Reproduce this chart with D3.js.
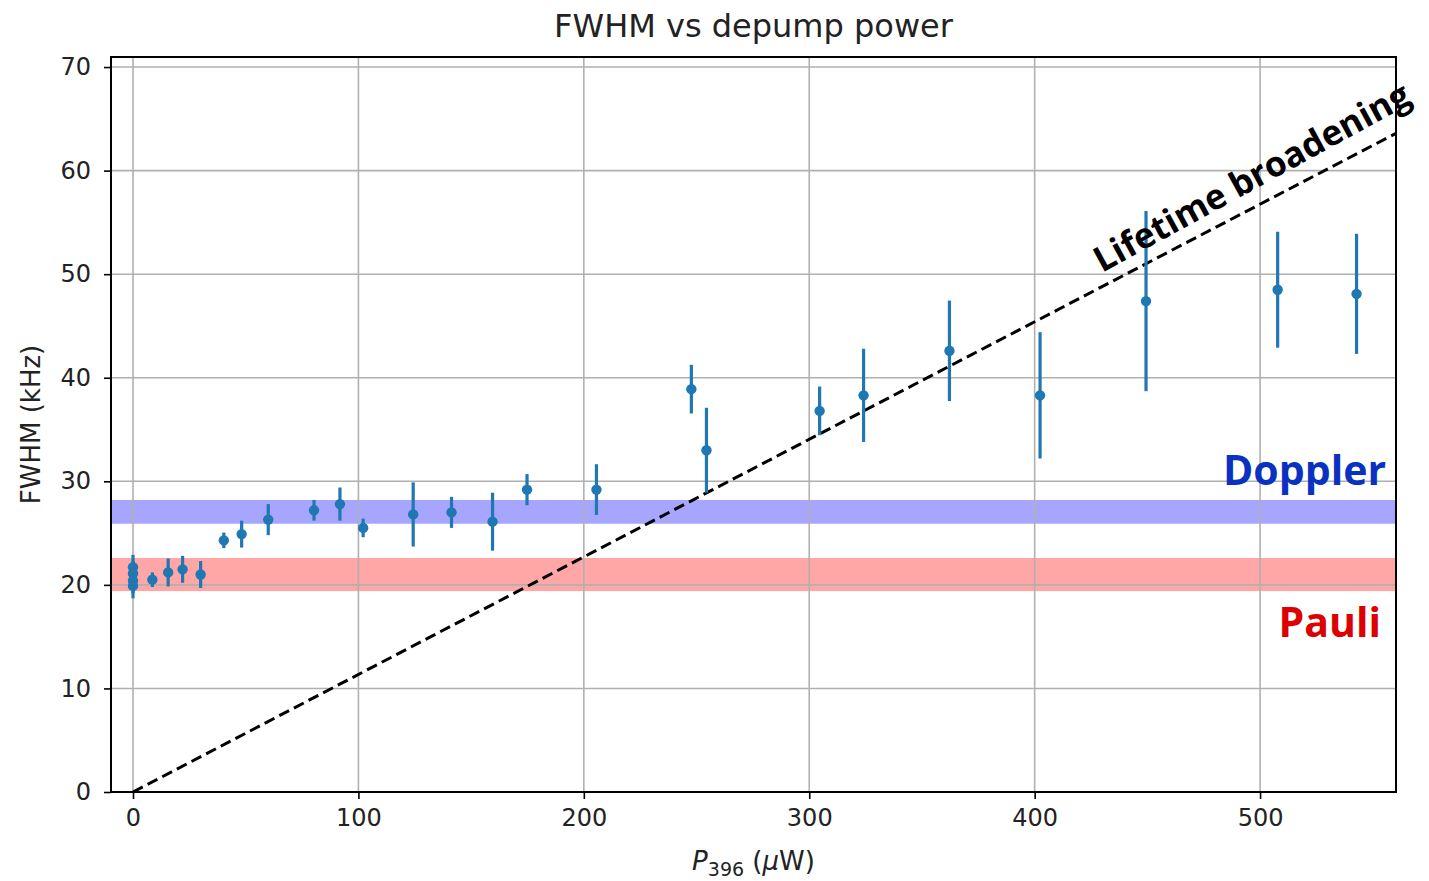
<!DOCTYPE html>
<html>
<head>
<meta charset="utf-8">
<script src="https://cdn.jsdelivr.net/npm/d3@7"></script>
<style>
  body { margin: 0; background: #fff; }
  text { font-family: "DejaVu Sans", sans-serif; }
</style>
</head>
<body>
<div id="chart"></div>
<script>
// data
var power = [0, 0, 0, 0, 8.6, 15.6, 22, 30, 40.3, 48.2, 60, 80.3, 91.8, 102.1, 124.3, 141.3,
             159.5, 174.8, 205.6, 247.7, 254.4, 304.6, 324.1, 362.2, 402.4, 449.4, 507.8, 542.8];
var fwhm = [21.7, 21.1, 20.4, 19.9, 20.5, 21.2, 21.5, 21.0, 24.3, 24.9, 26.3, 27.2, 27.8, 25.5, 26.8, 27.0,
            26.1, 29.2, 29.2, 38.9, 33.0, 36.8, 38.3, 42.6, 38.3, 47.4, 48.5, 48.1];
var fwhmErr = [1.2, 1.2, 1.2, 1.2, 0.7, 1.35, 1.3, 1.3, 0.75, 1.3, 1.5, 1.0, 1.6, 0.9, 3.1, 1.5,
               2.8, 1.5, 2.45, 2.35, 4.1, 2.35, 4.5, 4.85, 6.1, 8.7, 5.6, 5.8];

var lifetimeX = [0, 560.3];
var lifetimeY = [0, 63.6];

var dopplerBand = [25.9, 28.2];
var pauliBand = [19.4, 22.6];

var xTicks = [0, 100, 200, 300, 400, 500];
var yTicks = [0, 10, 20, 30, 40, 50, 60, 70];

function buildChart() {
    var margin = { top: 57, right: 33, bottom: 89, left: 111 },
        width = 1429 - margin.left - margin.right,
        height = 881 - margin.top - margin.bottom;

    var root = d3.select("#chart")
        .append("svg")
        .attr("width", 1429)
        .attr("height", 881);

    var svg = root.append("g")
        .attr("transform", "translate(" + margin.left + "," + margin.top + ")");

    var x = d3.scaleLinear().domain([-9.76, 560.3]).range([0, width]);
    var y = d3.scaleLinear().domain([0, 70.97]).range([height, 0]);

    // bands
    svg.append("rect")
        .attr("x", 0).attr("width", width)
        .attr("y", y(dopplerBand[1]))
        .attr("height", y(dopplerBand[0]) - y(dopplerBand[1]))
        .style("fill", "blue").style("opacity", 0.35);
    svg.append("rect")
        .attr("x", 0).attr("width", width)
        .attr("y", y(pauliBand[1]))
        .attr("height", y(pauliBand[0]) - y(pauliBand[1]))
        .style("fill", "red").style("opacity", 0.35);

    // grid
    svg.append("g").selectAll("line").data(xTicks).enter().append("line")
        .attr("x1", d => x(d)).attr("x2", d => x(d))
        .attr("y1", 0).attr("y2", height)
        .style("stroke", "#b0b0b0").style("stroke-width", 1.6);
    svg.append("g").selectAll("line").data(yTicks).enter().append("line")
        .attr("x1", 0).attr("x2", width)
        .attr("y1", d => y(d)).attr("y2", d => y(d))
        .style("stroke", "#b0b0b0").style("stroke-width", 1.6);

    // lifetime broadening line
    svg.append("line")
        .attr("x1", x(lifetimeX[0])).attr("y1", y(lifetimeY[0]))
        .attr("x2", x(lifetimeX[1])).attr("y2", y(lifetimeY[1]))
        .style("stroke", "black").style("stroke-width", 3)
        .style("stroke-dasharray", "11,5.5");

    // error bars
    svg.append("g").selectAll("line").data(power).enter().append("line")
        .attr("x1", d => x(d)).attr("x2", d => x(d))
        .attr("y1", (d, i) => y(fwhm[i] - fwhmErr[i]))
        .attr("y2", (d, i) => y(fwhm[i] + fwhmErr[i]))
        .style("stroke", "#1f77b4").style("stroke-width", 3.2);

    svg.append("g").selectAll("circle").data(power).enter().append("circle")
        .attr("cx", d => x(d))
        .attr("cy", (d, i) => y(fwhm[i]))
        .attr("r", 5.2)
        .style("fill", "#1f77b4");

    // axes
    var xAxis = svg.append("g")
        .attr("transform", "translate(0," + height + ")")
        .call(d3.axisBottom(x).tickValues(xTicks).tickSize(7).tickPadding(10));
    var yAxis = svg.append("g")
        .call(d3.axisLeft(y).tickValues(yTicks).tickSize(7).tickPadding(13));
    [xAxis, yAxis].forEach(a => {
        a.select(".domain").remove();
        a.selectAll(".tick line").style("stroke", "black").style("stroke-width", 1.6);
        a.selectAll(".tick text").style("font-size", "24px").style("fill", "#222")
            .style("font-family", "DejaVu Sans");
    });

    svg.append("rect")
        .attr("width", width).attr("height", height)
        .style("fill", "none").style("stroke", "black").style("stroke-width", 2);

    // annotations
    var ang = -Math.atan((y(0) - y(lifetimeY[1])) / (x(lifetimeX[1]) - x(0))) * 180 / Math.PI - 1.2;
    svg.append("text")
        .attr("transform", "translate(" + 991 + "," + 216 + ") rotate(" + ang + ")")
        .style("font-family", "'Open Sans', sans-serif")
        .style("font-weight", "bold")
        .style("font-size", "35px")
        .style("fill", "black")
        .text("Lifetime broadening");

    svg.append("text")
        .attr("x", width - 10).attr("y", y(29.9) + 3)
        .attr("text-anchor", "end")
        .style("font-family", "'Open Sans', sans-serif")
        .style("font-weight", "bold").style("font-size", "41px")
        .style("fill", "#0a32c0")
        .text("Doppler");

    svg.append("text")
        .attr("x", width - 15).attr("y", y(16.3) + 14)
        .attr("text-anchor", "end")
        .style("font-family", "'Open Sans', sans-serif")
        .style("font-weight", "bold").style("font-size", "41px")
        .style("fill", "#dd0000")
        .text("Pauli");

    // titles
    root.append("text")
        .attr("x", margin.left + width / 2).attr("y", 37)
        .attr("text-anchor", "middle")
        .style("font-size", "32px").style("fill", "#222")
        .text("FWHM vs depump power");

    var xl = root.append("text")
        .attr("x", margin.left + width / 2).attr("y", 870)
        .attr("text-anchor", "middle")
        .style("font-size", "26px").style("fill", "#222");
    xl.append("tspan").style("font-style", "italic").text("P");
    xl.append("tspan").attr("dy", 6).style("font-size", "19px").text("396");
    xl.append("tspan").attr("dy", -6).text(" (");
    xl.append("tspan").style("font-style", "italic").text("\u03bc");
    xl.append("tspan").text("W)");

    root.append("text")
        .attr("transform", "translate(40," + (margin.top + height / 2) + ") rotate(-90)")
        .attr("text-anchor", "middle")
        .style("font-size", "26px").style("fill", "#222")
        .text("FWHM (kHz)");
}

buildChart();
</script>
</body>
</html>
